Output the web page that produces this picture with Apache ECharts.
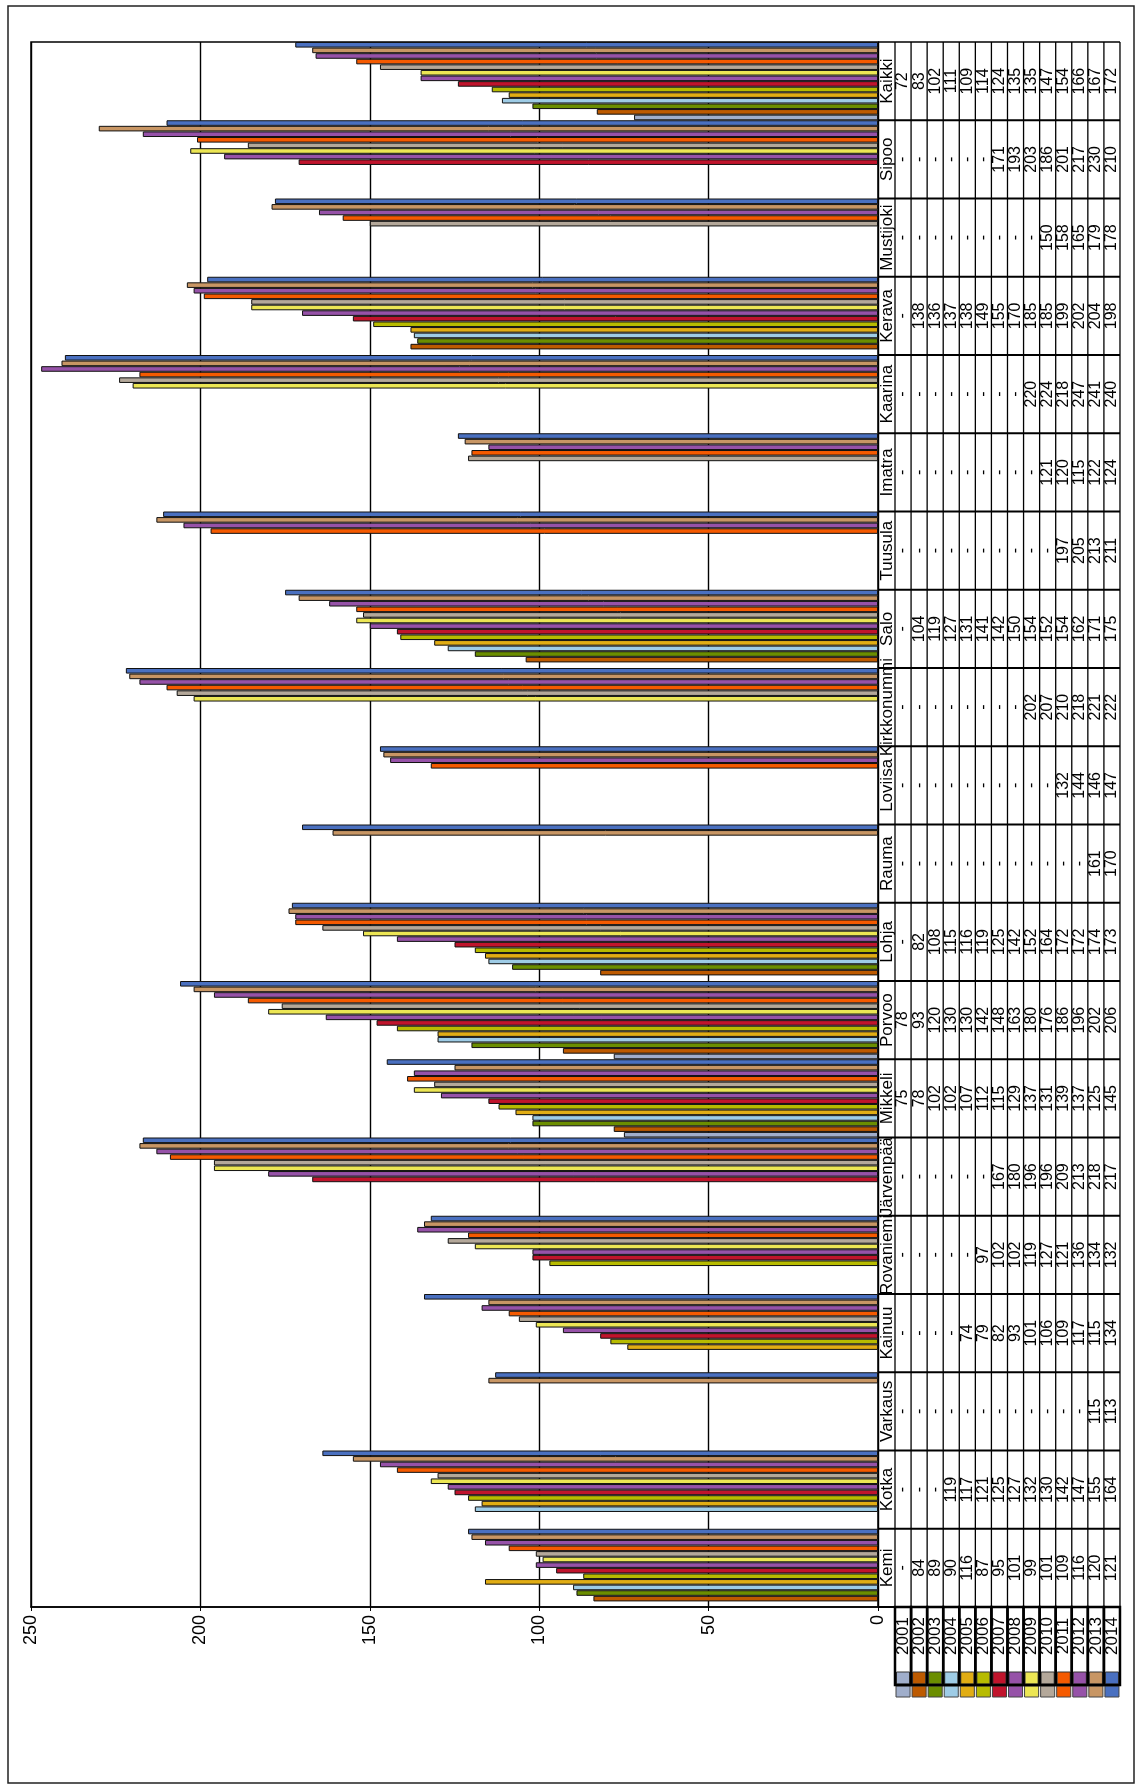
<!DOCTYPE html>
<html>
<head>
<meta charset="utf-8">
<script src="https://cdn.jsdelivr.net/npm/echarts@6/dist/echarts.min.js"></script>
<style>
  html, body { margin: 0; padding: 0; background: #fff; }
  #chart { width: 1139px; height: 1785px; }
</style>
</head>
<body>
<div id="chart"></div>
<script>
const categories = ['Kemi', 'Kotka', 'Varkaus', 'Kainuu', 'Rovaniemi', 'Järvenpää', 'Mikkeli', 'Porvoo',
  'Lohja', 'Rauma', 'Loviisa', 'Kirkkonummi', 'Salo', 'Tuusula', 'Imatra', 'Kaarina', 'Kerava',
  'Mustijoki', 'Sipoo', 'Kaikki'];
const years = ['2001', '2002', '2003', '2004', '2005', '2006', '2007', '2008', '2009', '2010',
  '2011', '2012', '2013', '2014'];
const yearColors = ['#a0aecb', '#bd5a00', '#6b8e00', '#9ecce6', '#e1ad14', '#b7bb00', '#c0142c',
  '#9652a8', '#ece654', '#b4a89a', '#f55a00', '#9652a8', '#c89664', '#4a70c0'];
const valueTicks = [0, 50, 100, 150, 200, 250];

// values 2001..2014, null where the table has '-'
const kemi        = [null, 84, 89, 90, 116, 87, 95, 101, 99, 101, 109, 116, 120, 121];
const kotka       = [null, null, null, 119, 117, 121, 125, 127, 132, 130, 142, 147, 155, 164];
const varkaus     = [null, null, null, null, null, null, null, null, null, null, null, null, 115, 113];
const kainuu      = [null, null, null, null, 74, 79, 82, 93, 101, 106, 109, 117, 115, 134];
const rovaniemi   = [null, null, null, null, null, 97, 102, 102, 119, 127, 121, 136, 134, 132];
const jarvenpaa   = [null, null, null, null, null, null, 167, 180, 196, 196, 209, 213, 218, 217];
const mikkeli     = [75, 78, 102, 102, 107, 112, 115, 129, 137, 131, 139, 137, 125, 145];
const porvoo      = [78, 93, 120, 130, 130, 142, 148, 163, 180, 176, 186, 196, 202, 206];
const lohja       = [null, 82, 108, 115, 116, 119, 125, 142, 152, 164, 172, 172, 174, 173];
const rauma       = [null, null, null, null, null, null, null, null, null, null, null, null, 161, 170];
const loviisa     = [null, null, null, null, null, null, null, null, null, null, 132, 144, 146, 147];
const kirkkonummi = [null, null, null, null, null, null, null, null, 202, 207, 210, 218, 221, 222];
const salo        = [null, 104, 119, 127, 131, 141, 142, 150, 154, 152, 154, 162, 171, 175];
const tuusula     = [null, null, null, null, null, null, null, null, null, null, 197, 205, 213, 211];
const imatra      = [null, null, null, null, null, null, null, null, null, 121, 120, 115, 122, 124];
const kaarina     = [null, null, null, null, null, null, null, null, 220, 224, 218, 247, 241, 240];
const kerava      = [null, 138, 136, 137, 138, 149, 155, 170, 185, 185, 199, 202, 204, 198];
const mustijoki   = [null, null, null, null, null, null, null, null, null, 150, 158, 165, 179, 178];
const sipoo       = [null, null, null, null, null, null, 171, 193, 203, 186, 201, 217, 230, 210];
const kaikki      = [72, 83, 102, 111, 109, 114, 124, 135, 135, 147, 154, 166, 167, 172];

const tableRows = [kemi, kotka, varkaus, kainuu, rovaniemi, jarvenpaa, mikkeli, porvoo, lohja, rauma,
  loviisa, kirkkonummi, salo, tuusula, imatra, kaarina, kerava, mustijoki, sipoo, kaikki];

const FONT = '"Liberation Sans", Arial, sans-serif';

const chart = echarts.init(document.getElementById('chart'));

// the first series lands on top of a horizontal group, so 2014 goes first
const series = years.map((y, i) => ({
  name: y,
  type: 'bar',
  data: tableRows.map(r => r[i]),
  barGap: 0,
  barCategoryGap: 0,
  itemStyle: { color: yearColors[i], borderColor: '#111', borderWidth: 1 },
  emphasis: { disabled: true }
})).reverse();

chart.setOption({
  animation: false,
  grid: {
    left: 31, right: 261, top: 42, bottom: 178,
    show: true, borderColor: '#000', borderWidth: 1.5
  },
  xAxis: {
    type: 'value',
    inverse: true,
    min: valueTicks[0],
    max: valueTicks[valueTicks.length - 1],
    interval: 50,
    position: 'bottom',
    axisLine: { show: true, lineStyle: { color: '#000', width: 1.5 } },
    axisTick: { show: true, length: 4, lineStyle: { color: '#000' } },
    splitLine: { show: true, lineStyle: { color: '#000', width: 1.4 } },
    axisLabel: { rotate: 90, margin: 8, color: '#000', fontSize: 18, fontFamily: FONT }
  },
  yAxis: {
    type: 'category',
    data: categories,
    axisLine: { show: false },
    axisTick: { show: false },
    axisLabel: { show: false },
    splitLine: { show: false }
  },
  series: series
});

// data table to the right of the plot (the original sheet was turned on its side)
const tableLeft = chart.convertToPixel({ xAxisIndex: 0 }, 0);
const c0 = chart.convertToPixel({ yAxisIndex: 0 }, 0);
const c1 = chart.convertToPixel({ yAxisIndex: 0 }, 1);
const band = Math.abs(c0 - c1);
const tableBottom = c0 + band / 2;
const tableTop = chart.convertToPixel({ yAxisIndex: 0 }, categories.length - 1) - band / 2;
const labelW = 17;
const rowW = 16.07;
const rowsLeft = tableLeft + labelW;
const rowsRight = rowsLeft + years.length * rowW;

const g = [];
const line = (x1, y1, x2, y2, w) => g.push({
  type: 'line', silent: true,
  shape: { x1, y1, x2, y2 },
  style: { stroke: '#000', lineWidth: w || 1.3 }
});
const txt = (text, x, y, size) => g.push({
  type: 'text', silent: true, x, y, rotation: Math.PI / 2,
  style: { text, fill: '#000', fontSize: size, fontFamily: FONT, align: 'center', verticalAlign: 'middle' }
});

// cell borders
line(tableLeft, tableTop, rowsRight, tableTop);
for (let k = 0; k <= years.length; k++) {
  const x = rowsLeft + k * rowW;
  line(x, tableTop, x, tableBottom);
}
categories.forEach((c, j) => {
  const yc = chart.convertToPixel({ yAxisIndex: 0 }, j);
  line(tableLeft, yc + band / 2, rowsRight, yc + band / 2, 1.8);
  txt(c, tableLeft + labelW / 2 + 0.5, yc, 17);
  tableRows[j].forEach((v, k) => {
    txt(v == null ? '-' : String(v), rowsLeft + (k + 0.5) * rowW, yc, 16);
  });
});

// legend: year labels with colour keys
const legTop = tableBottom;
const legBottom = legTop + 78;
years.forEach((y, k) => {
  const x = rowsLeft + k * rowW;
  g.push({
    type: 'rect', silent: true,
    shape: { x: x + 1.5, y: legBottom - 13, width: rowW - 3, height: 12 },
    style: { fill: yearColors[k], stroke: '#333', lineWidth: 1 }
  });
  g.push({
    type: 'rect', silent: true,
    shape: { x: x + 1, y: legBottom + 1, width: rowW - 2, height: 11 },
    style: { fill: yearColors[k], stroke: '#444', lineWidth: 1 }
  });
  g.push({
    type: 'rect', silent: true,
    shape: { x: x, y: legTop, width: rowW, height: legBottom - legTop },
    style: { fill: 'none', stroke: '#000', lineWidth: 2.5 }
  });
  txt(y, x + rowW / 2, legTop + 29, 17);
});

// outer chart border
g.push({
  type: 'rect', silent: true,
  shape: { x: 8, y: 6, width: 1126, height: 1777 },
  style: { fill: 'none', stroke: '#222', lineWidth: 1.5 }
});

chart.setOption({ graphic: g });
</script>
</body>
</html>
